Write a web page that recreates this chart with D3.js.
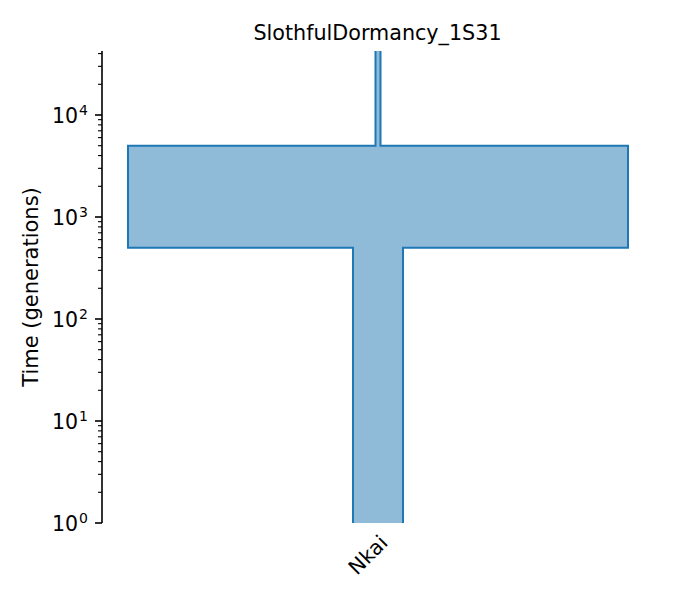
<!DOCTYPE html>
<html lang="en">
<head>
  <meta charset="UTF-8">
  <title>SlothfulDormancy_1S31</title>
  <script src="https://d3js.org/d3.v7.min.js"></script>
  <style>
    body { margin: 0; background: #fff; }
    text { font-family: "DejaVu Sans", sans-serif; fill: #000; }
  </style>
</head>
<body>
  <div id="chart"></div>

  <script>
  // deme Nkai, epochs listed oldest first
  const demeName = "Nkai";
  const epochStart = [Infinity, 5000, 500];
  const epochEnd = [5000, 500, 0];
  const epochSize = [100, 10000, 1000];
  const yTicks = [1, 10, 100, 1000, 10000];

  const W = 675, H = 600;
  const mLeft = 102, mRight = 652, mTop = 51, mBottom = 523;

  const svg = d3.select("#chart").append("svg")
    .attr("width", W).attr("height", H);

  const y = d3.scaleLog().domain([1, 42400]).range([mBottom, mTop]);
  const x = d3.scaleLinear().domain([-5500, 5500]).range([mLeft + 1, mRight + 1]);

  // plot area clip, so the open ends (time 0 and infinity) show no cap
  svg.append("clipPath").attr("id", "plotclip")
    .append("rect")
    .attr("x", mLeft).attr("y", mTop)
    .attr("width", mRight - mLeft).attr("height", mBottom - mTop);

  // outline: down the left side, then back up the right side
  const pts = [];
  epochSize.forEach((s, i) => {
    pts.push([-s / 2, epochStart[i]]);
    pts.push([-s / 2, epochEnd[i]]);
  });
  for (let i = epochSize.length - 1; i >= 0; i--) {
    pts.push([epochSize[i] / 2, epochEnd[i]]);
    pts.push([epochSize[i] / 2, epochStart[i]]);
  }
  const ty = t => t === Infinity ? mTop - 20 : (t <= 0 ? mBottom + 20 : y(t));
  const line = d3.line().x(d => x(d[0])).y(d => ty(d[1]));

  svg.append("path")
    .attr("clip-path", "url(#plotclip)")
    .attr("d", line(pts) + "Z")
    .attr("fill", "#1f77b4").attr("fill-opacity", 0.5)
    .attr("stroke", "#1f77b4").attr("stroke-width", 2)
    .attr("stroke-linejoin", "miter");

  // y axis, log ticks
  const minor = [];
  for (let e = 0; e < 5; e++) {
    for (let k = 2; k <= 9; k++) {
      const v = k * Math.pow(10, e);
      if (v <= 42400) minor.push(v);
    }
  }
  const ax = svg.append("g");
  ax.append("line")
    .attr("x1", mLeft).attr("x2", mLeft).attr("y1", mTop).attr("y2", mBottom)
    .attr("stroke", "#000").attr("stroke-width", 1.6);
  ax.selectAll(".minor").data(minor).enter().append("line")
    .attr("x1", mLeft).attr("x2", mLeft - 4)
    .attr("y1", d => y(d)).attr("y2", d => y(d))
    .attr("stroke", "#000").attr("stroke-width", 1.1);
  ax.selectAll(".major").data(yTicks).enter().append("line")
    .attr("x1", mLeft).attr("x2", mLeft - 7)
    .attr("y1", d => y(d)).attr("y2", d => y(d))
    .attr("stroke", "#000").attr("stroke-width", 1.6);
  const lab = ax.selectAll(".lab").data(yTicks).enter().append("text")
    .attr("x", mLeft - 14).attr("y", d => y(d) + 8)
    .attr("text-anchor", "end").style("font-size", "20.5px");
  lab.append("tspan").text("10");
  lab.append("tspan").attr("dx", 1).attr("dy", -8).style("font-size", "14px")
    .text(d => Math.round(Math.log10(d)));

  // deme label
  svg.append("text")
    .attr("transform", `translate(${x(0) + 11},${mBottom + 21}) rotate(-45)`)
    .attr("text-anchor", "end")
    .style("font-size", "20.5px")
    .text(demeName);

  svg.append("text")
    .attr("transform", `translate(38,${(mTop + mBottom) / 2}) rotate(-90)`)
    .attr("text-anchor", "middle")
    .style("font-size", "21px")
    .text("Time (generations)");

  svg.append("text")
    .attr("x", (mLeft + mRight) / 2 + 0.5).attr("y", 40)
    .attr("text-anchor", "middle")
    .style("font-size", "20.7px")
    .text("SlothfulDormancy_1S31");
  </script>
</body>
</html>
